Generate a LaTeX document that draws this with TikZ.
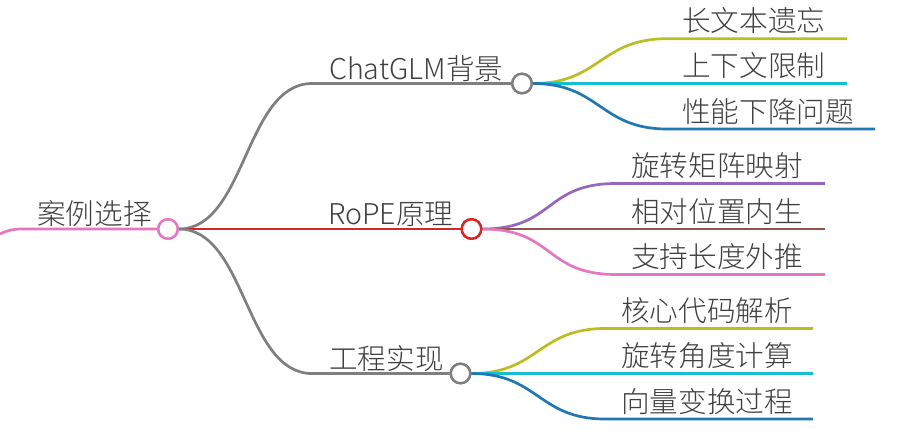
\documentclass[tikz,border=0pt]{standalone}
\usepackage{fontspec}
\newfontfamily\cjk{Noto Sans CJK SC Light}
\definecolor{cgray}{HTML}{7F7F7F}
\definecolor{cpink}{HTML}{E377C2}
\definecolor{cred}{HTML}{D62728}
\definecolor{colive}{HTML}{BCBD22}
\definecolor{ccyan}{HTML}{17BECF}
\definecolor{cblue}{HTML}{1F77B4}
\definecolor{cpurple}{HTML}{9467BD}
\definecolor{cbrown}{HTML}{8C564B}
\definecolor{ctxt}{HTML}{3F3F3F}
\tikzset{
  edge/.style={line width=2.7pt},
  dot/.style={circle, draw, fill=white, line width=2.4pt, minimum size=19.5pt, inner sep=0pt},
  lbl/.style={anchor=base west, inner sep=0pt, text=ctxt, font=\cjk\fontsize{28.6}{30}\selectfont},
}
\begin{document}
\begin{tikzpicture}[x=1pt,y=-1pt]
\useasboundingbox (0,0) rectangle (912,439);
% coordinates
\coordinate (r0) at (0,234);
\coordinate (r1) at (22,229);
\coordinate (h1) at (312,83.5);
\coordinate (h3) at (312,373.5);
% branch 1 leaves
\coordinate (a1s) at (667,38.7);  \coordinate (a1e) at (847,38.7);
\coordinate (a2s) at (667,83.5);  \coordinate (a2e) at (847,83.5);
\coordinate (a3s) at (667,129);   \coordinate (a3e) at (875,129);
% branch 2 leaves
\coordinate (b1s) at (616,183.5); \coordinate (b1e) at (825,183.5);
\coordinate (b2s) at (616,229);   \coordinate (b2e) at (825,229);
\coordinate (b3s) at (616,274.5); \coordinate (b3e) at (825,274.5);
% branch 3 leaves
\coordinate (c1s) at (605,328.5); \coordinate (c1e) at (813,328.5);
\coordinate (c2s) at (605,373.5); \coordinate (c2e) at (813,373.5);
\coordinate (c3s) at (605,419);   \coordinate (c3e) at (813,419);

% circles (defined first for anchors, redrawn on top later)
\path (168,229) node[dot, draw=cpink] (root) {};
\path (522,83.5) node[dot, draw=cgray] (n1) {};
\path (471.5,229) node[dot, draw=cred] (n2) {};
\path (460.5,373.5) node[dot, draw=cgray] (n3) {};

% root incoming
\draw[edge, cpink] (r0) .. controls +(8,-4) and +(-8,0) .. (r1) -- (root.west);
% main branches
\draw[edge, cgray] (root.east) .. controls +(67,0) and +(-67,0) .. (h1) -- (n1.west);
\draw[edge, cred] (root.east) -- (n2.west);
\draw[edge, cgray] (root.east) .. controls +(67,0) and +(-67,0) .. (h3) -- (n3.west);
% leaves branch 1
\draw[edge, colive] (n1.east) .. controls +(67,0) and +(-67,0) .. (a1s) -- (a1e);
\draw[edge, ccyan] (n1.east) -- (a2s) -- (a2e);
\draw[edge, cblue] (n1.east) .. controls +(67,0) and +(-67,0) .. (a3s) -- (a3e);
% leaves branch 2
\draw[edge, cpurple] (n2.east) .. controls +(72,0) and +(-72,0) .. (b1s) -- (b1e);
\draw[edge, cbrown] (n2.east) -- (b2s) -- (b2e);
\draw[edge, cpink] (n2.east) .. controls +(72,0) and +(-72,0) .. (b3s) -- (b3e);
% leaves branch 3
\draw[edge, colive] (n3.east) .. controls +(67,0) and +(-67,0) .. (c1s) -- (c1e);
\draw[edge, ccyan] (n3.east) -- (c2s) -- (c2e);
\draw[edge, cblue] (n3.east) .. controls +(67,0) and +(-67,0) .. (c3s) -- (c3e);

% circles on top
\node[dot, draw=cpink] at (root) {};
\node[dot, draw=cgray] at (n1) {};
\node[dot, draw=cred] at (n2) {};
\node[dot, draw=cgray] at (n3) {};

% labels
\node[lbl] (t0) at (37,224) {案例选择};
\node[lbl] (t1) at (329,79) {ChatGLM背景};
\node[lbl] (t2) at (328,224.5) {RoPE原理};
\node[lbl] (t3) at (329,369) {工程实现};
\node[lbl] (ta1) at (682,31.7) {长文本遗忘};
\node[lbl] (ta2) at (682,76.5) {上下文限制};
\node[lbl] (ta3) at (682,122) {性能下降问题};
\node[lbl] (tb1) at (631,176.5) {旋转矩阵映射};
\node[lbl] (tb2) at (631,222) {相对位置内生};
\node[lbl] (tb3) at (631,267.5) {支持长度外推};
\node[lbl] (tc1) at (621,321.5) {核心代码解析};
\node[lbl] (tc2) at (621,366.5) {旋转角度计算};
\node[lbl] (tc3) at (621,412) {向量变换过程};
\end{tikzpicture}
\end{document}
